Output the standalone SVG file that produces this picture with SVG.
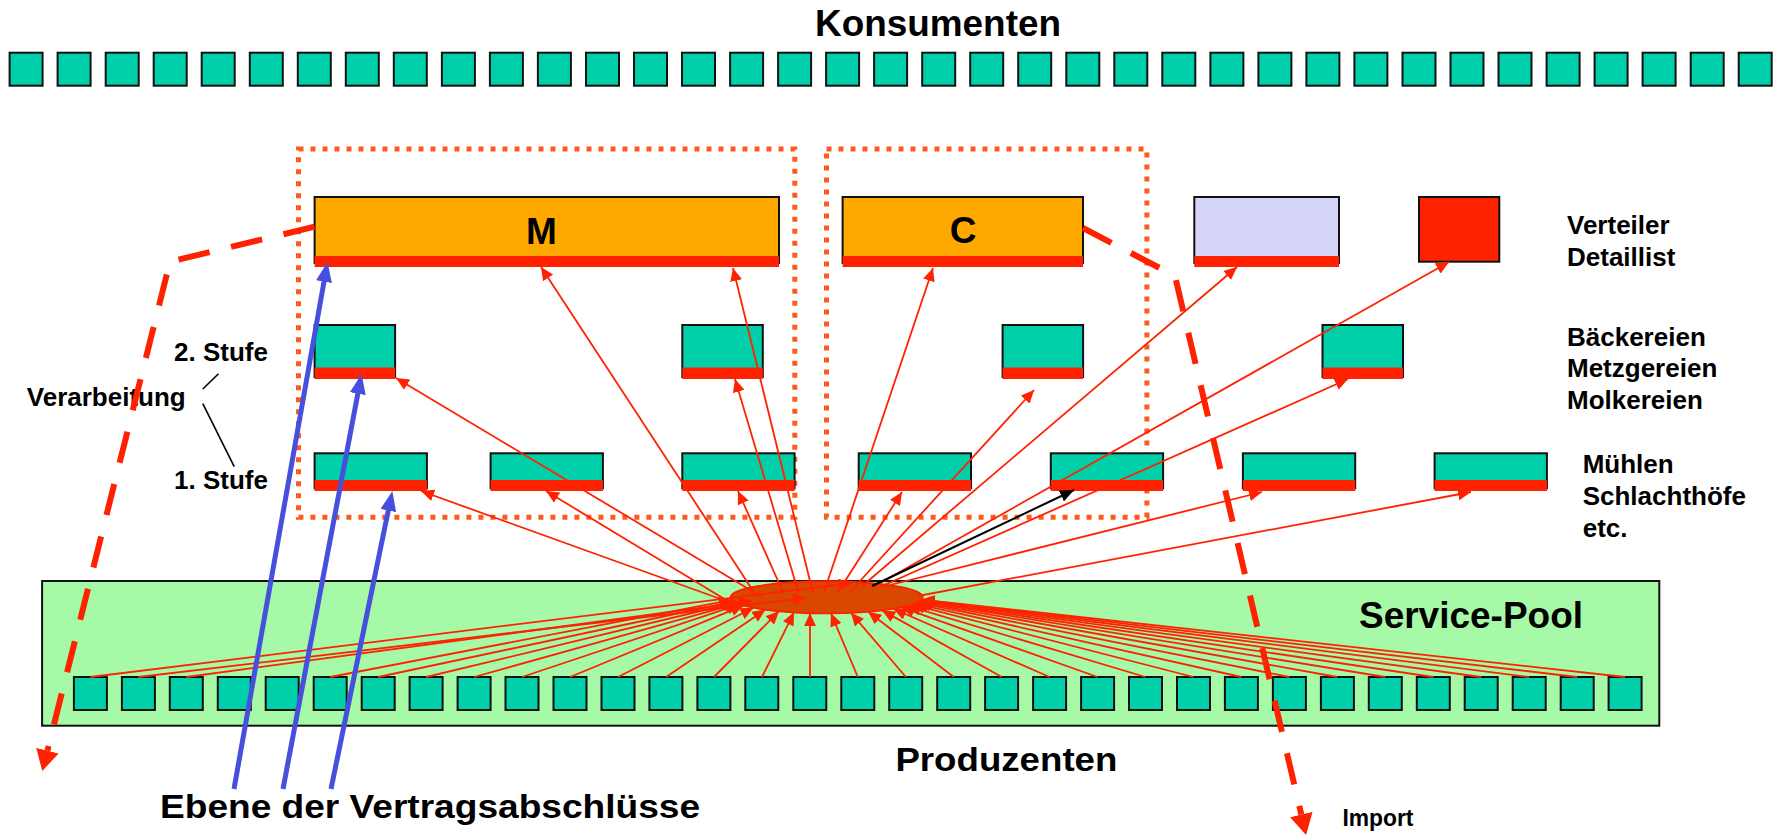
<svg xmlns="http://www.w3.org/2000/svg" width="1774" height="836" viewBox="0 0 1774 836">
<style>
text{font-family:"Liberation Sans",Arial,sans-serif;font-weight:bold;fill:#000}
.big{font-size:37px}
.mid{font-size:26px}
.sq{fill:#00D0AA;stroke:#111;stroke-width:2}
.box{stroke:#111;stroke-width:2}
.strip{fill:#FF2200}
.dot{fill:none;stroke:#FF5A1A;stroke-width:5;stroke-dasharray:5 7}
.lr{fill:none;stroke:#FF2200;stroke-width:1.8;marker-end:url(#ar)}
.lb{fill:none;stroke:#000;stroke-width:2;marker-end:url(#ab)}
.blue{fill:none;stroke:#4650DC;stroke-width:5;marker-end:url(#abl)}
.dash{fill:none;stroke:#FF2200;stroke-width:6;stroke-dasharray:32 22;marker-end:url(#ad)}
.thin{stroke:#000;stroke-width:1.6}
</style>
<defs>
<marker id="ar" markerUnits="userSpaceOnUse" markerWidth="13" markerHeight="12" refX="13" refY="6" orient="auto" viewBox="0 0 13 12"><path d="M0,0 L13,6 L0,12 z" fill="#FF2200"/></marker>
<marker id="ab" markerUnits="userSpaceOnUse" markerWidth="14" markerHeight="12" refX="14" refY="6" orient="auto" viewBox="0 0 14 12"><path d="M0,0 L14,6 L0,12 z" fill="#000"/></marker>
<marker id="abl" markerUnits="userSpaceOnUse" markerWidth="20" markerHeight="16" refX="10" refY="8" orient="auto" viewBox="0 0 20 16"><path d="M0,0 L20,8 L0,16 z" fill="#4650DC"/></marker>
<marker id="ad" markerUnits="userSpaceOnUse" markerWidth="21" markerHeight="23" refX="0" refY="11.5" orient="auto" viewBox="0 0 21 23"><path d="M0,0 L21,11.5 L0,23 z" fill="#FF2200"/></marker>
</defs>
<rect width="1774" height="836" fill="#fff"/>

<text class="big" x="938" y="36" text-anchor="middle" textLength="246" lengthAdjust="spacingAndGlyphs">Konsumenten</text>

<g id="konsumenten">
<rect id="k0" class="sq" x="9.6" y="52.7" width="33" height="33"/>
<rect id="k1" class="sq" x="57.6" y="52.7" width="33" height="33"/>
<rect id="k2" class="sq" x="105.7" y="52.7" width="33" height="33"/>
<rect id="k3" class="sq" x="153.7" y="52.7" width="33" height="33"/>
<rect id="k4" class="sq" x="201.7" y="52.7" width="33" height="33"/>
<rect id="k5" class="sq" x="249.8" y="52.7" width="33" height="33"/>
<rect id="k6" class="sq" x="297.8" y="52.7" width="33" height="33"/>
<rect id="k7" class="sq" x="345.8" y="52.7" width="33" height="33"/>
<rect id="k8" class="sq" x="393.8" y="52.7" width="33" height="33"/>
<rect id="k9" class="sq" x="441.9" y="52.7" width="33" height="33"/>
<rect id="k10" class="sq" x="489.9" y="52.7" width="33" height="33"/>
<rect id="k11" class="sq" x="537.9" y="52.7" width="33" height="33"/>
<rect id="k12" class="sq" x="586.0" y="52.7" width="33" height="33"/>
<rect id="k13" class="sq" x="634.0" y="52.7" width="33" height="33"/>
<rect id="k14" class="sq" x="682.0" y="52.7" width="33" height="33"/>
<rect id="k15" class="sq" x="730.1" y="52.7" width="33" height="33"/>
<rect id="k16" class="sq" x="778.1" y="52.7" width="33" height="33"/>
<rect id="k17" class="sq" x="826.1" y="52.7" width="33" height="33"/>
<rect id="k18" class="sq" x="874.1" y="52.7" width="33" height="33"/>
<rect id="k19" class="sq" x="922.2" y="52.7" width="33" height="33"/>
<rect id="k20" class="sq" x="970.2" y="52.7" width="33" height="33"/>
<rect id="k21" class="sq" x="1018.2" y="52.7" width="33" height="33"/>
<rect id="k22" class="sq" x="1066.3" y="52.7" width="33" height="33"/>
<rect id="k23" class="sq" x="1114.3" y="52.7" width="33" height="33"/>
<rect id="k24" class="sq" x="1162.3" y="52.7" width="33" height="33"/>
<rect id="k25" class="sq" x="1210.4" y="52.7" width="33" height="33"/>
<rect id="k26" class="sq" x="1258.4" y="52.7" width="33" height="33"/>
<rect id="k27" class="sq" x="1306.4" y="52.7" width="33" height="33"/>
<rect id="k28" class="sq" x="1354.4" y="52.7" width="33" height="33"/>
<rect id="k29" class="sq" x="1402.5" y="52.7" width="33" height="33"/>
<rect id="k30" class="sq" x="1450.5" y="52.7" width="33" height="33"/>
<rect id="k31" class="sq" x="1498.5" y="52.7" width="33" height="33"/>
<rect id="k32" class="sq" x="1546.6" y="52.7" width="33" height="33"/>
<rect id="k33" class="sq" x="1594.6" y="52.7" width="33" height="33"/>
<rect id="k34" class="sq" x="1642.6" y="52.7" width="33" height="33"/>
<rect id="k35" class="sq" x="1690.7" y="52.7" width="33" height="33"/>
<rect id="k36" class="sq" x="1738.7" y="52.7" width="33" height="33"/>
</g>

<g id="group-M-frame"><rect class="dot" x="298.5" y="149" width="496.3" height="368.3"/></g>
<g id="group-C-frame"><rect class="dot" x="826.5" y="149" width="320.4" height="368.3"/></g>

<g id="node-M"><rect class="box" x="314.6" y="197" width="464.4" height="66" fill="#FFA800"/><rect class="strip" x="314.6" y="256" width="464.4" height="11"/><text class="big" x="541.3" y="244" text-anchor="middle">M</text></g>
<g id="node-C"><rect class="box" x="842.6" y="197" width="240.4" height="66" fill="#FFA800"/><rect class="strip" x="842.6" y="256" width="240.4" height="11"/><text class="big" x="963" y="243" text-anchor="middle">C</text></g>
<g id="node-lavender"><rect class="box" x="1194.3" y="197" width="144.7" height="66" fill="#D5D5FA"/><rect class="strip" x="1194.3" y="256" width="144.7" height="11"/></g>
<g id="node-red"><rect class="box" x="1419" y="197" width="80.3" height="64.7" fill="#FF2200"/></g>

<g id="s2-1"><rect class="sq" x="314.6" y="325" width="80.5" height="52"/><rect class="strip" x="314.6" y="367.5" width="80.5" height="11.5"/></g>
<g id="s2-2"><rect class="sq" x="682.3" y="325" width="80.5" height="52"/><rect class="strip" x="682.3" y="367.5" width="80.5" height="11.5"/></g>
<g id="s2-3"><rect class="sq" x="1002.6" y="325" width="80.5" height="52"/><rect class="strip" x="1002.6" y="367.5" width="80.5" height="11.5"/></g>
<g id="s2-4"><rect class="sq" x="1322.5" y="325" width="80.5" height="52"/><rect class="strip" x="1322.5" y="367.5" width="80.5" height="11.5"/></g>

<g id="s1-1"><rect class="sq" x="314.6" y="453.3" width="112.3" height="35"/><rect class="strip" x="314.6" y="480" width="112.3" height="11"/></g>
<g id="s1-2"><rect class="sq" x="490.6" y="453.3" width="112.3" height="35"/><rect class="strip" x="490.6" y="480" width="112.3" height="11"/></g>
<g id="s1-3"><rect class="sq" x="682.3" y="453.3" width="112.3" height="35"/><rect class="strip" x="682.3" y="480" width="112.3" height="11"/></g>
<g id="s1-4"><rect class="sq" x="858.7" y="453.3" width="112.3" height="35"/><rect class="strip" x="858.7" y="480" width="112.3" height="11"/></g>
<g id="s1-5"><rect class="sq" x="1050.8" y="453.3" width="112.3" height="35"/><rect class="strip" x="1050.8" y="480" width="112.3" height="11"/></g>
<g id="s1-6"><rect class="sq" x="1242.9" y="453.3" width="112.3" height="35"/><rect class="strip" x="1242.9" y="480" width="112.3" height="11"/></g>
<g id="s1-7"><rect class="sq" x="1434.6" y="453.3" width="112.3" height="35"/><rect class="strip" x="1434.6" y="480" width="112.3" height="11"/></g>

<g id="labels">
<text class="mid" x="1567" y="234">Verteiler</text>
<text class="mid" x="1567" y="266">Detaillist</text>
<text class="mid" x="1567" y="345.7">Bäckereien</text>
<text class="mid" x="1567" y="377.3">Metzgereien</text>
<text class="mid" x="1567" y="409.3">Molkereien</text>
<text class="mid" x="1582.7" y="473.3">Mühlen</text>
<text class="mid" x="1582.7" y="505">Schlachthöfe</text>
<text class="mid" x="1582.7" y="537.3">etc.</text>
<text class="mid" x="174" y="361">2. Stufe</text>
<text class="mid" x="174" y="489">1. Stufe</text>
<text class="mid" x="26.8" y="406">Verarbeitung</text>
<line class="thin" x1="202.8" y1="389" x2="218.5" y2="373.7"/>
<line class="thin" x1="202.8" y1="403.7" x2="234.2" y2="466.7"/>
</g>

<g id="service-pool">
<rect x="42.1" y="581" width="1617.2" height="144.7" fill="#A6F9A6" stroke="#111" stroke-width="2"/>
<text class="big" x="1359" y="627.7" textLength="224" lengthAdjust="spacingAndGlyphs">Service-Pool</text>
<ellipse id="pool-hub" cx="826.7" cy="597.3" rx="96" ry="16" fill="#D84800" stroke="#FF2200" stroke-width="2"/>
</g>

<g id="produzenten">
<rect id="p0" class="sq" x="73.9" y="677" width="33" height="33"/>
<rect id="p1" class="sq" x="121.9" y="677" width="33" height="33"/>
<rect id="p2" class="sq" x="169.8" y="677" width="33" height="33"/>
<rect id="p3" class="sq" x="217.8" y="677" width="33" height="33"/>
<rect id="p4" class="sq" x="265.7" y="677" width="33" height="33"/>
<rect id="p5" class="sq" x="313.7" y="677" width="33" height="33"/>
<rect id="p6" class="sq" x="361.7" y="677" width="33" height="33"/>
<rect id="p7" class="sq" x="409.6" y="677" width="33" height="33"/>
<rect id="p8" class="sq" x="457.6" y="677" width="33" height="33"/>
<rect id="p9" class="sq" x="505.5" y="677" width="33" height="33"/>
<rect id="p10" class="sq" x="553.5" y="677" width="33" height="33"/>
<rect id="p11" class="sq" x="601.5" y="677" width="33" height="33"/>
<rect id="p12" class="sq" x="649.4" y="677" width="33" height="33"/>
<rect id="p13" class="sq" x="697.4" y="677" width="33" height="33"/>
<rect id="p14" class="sq" x="745.3" y="677" width="33" height="33"/>
<rect id="p15" class="sq" x="793.3" y="677" width="33" height="33"/>
<rect id="p16" class="sq" x="841.3" y="677" width="33" height="33"/>
<rect id="p17" class="sq" x="889.2" y="677" width="33" height="33"/>
<rect id="p18" class="sq" x="937.2" y="677" width="33" height="33"/>
<rect id="p19" class="sq" x="985.1" y="677" width="33" height="33"/>
<rect id="p20" class="sq" x="1033.1" y="677" width="33" height="33"/>
<rect id="p21" class="sq" x="1081.1" y="677" width="33" height="33"/>
<rect id="p22" class="sq" x="1129.0" y="677" width="33" height="33"/>
<rect id="p23" class="sq" x="1177.0" y="677" width="33" height="33"/>
<rect id="p24" class="sq" x="1224.9" y="677" width="33" height="33"/>
<rect id="p25" class="sq" x="1272.9" y="677" width="33" height="33"/>
<rect id="p26" class="sq" x="1320.9" y="677" width="33" height="33"/>
<rect id="p27" class="sq" x="1368.8" y="677" width="33" height="33"/>
<rect id="p28" class="sq" x="1416.8" y="677" width="33" height="33"/>
<rect id="p29" class="sq" x="1464.7" y="677" width="33" height="33"/>
<rect id="p30" class="sq" x="1512.7" y="677" width="33" height="33"/>
<rect id="p31" class="sq" x="1560.7" y="677" width="33" height="33"/>
<rect id="p32" class="sq" x="1608.6" y="677" width="33" height="33"/>
</g>

<text class="big" x="895.4" y="770.7" style="font-size:34px" textLength="222" lengthAdjust="spacingAndGlyphs">Produzenten</text>
<text class="big" x="160" y="818.3" style="font-size:33px" textLength="540" lengthAdjust="spacingAndGlyphs">Ebene der Vertragsabschlüsse</text>
<text x="1342.4" y="825.7" style="font-size:24px" textLength="71" lengthAdjust="spacingAndGlyphs">Import</text>

<g id="connectors">
<g id="producer-links">
<path class="lr" d="M90.4,677 L852,583"/>
<path class="lr" d="M138.4,677 L806,598"/>
<path class="lr" d="M186.3,677 L752,601"/>
<path class="lr" d="M330.2,677 L732,599.9"/>
<path class="lr" d="M378.2,677 L734,601.5"/>
<path class="lr" d="M426.1,677 L736,602.5"/>
<path class="lr" d="M474.1,677 L738,603.4"/>
<path class="lr" d="M522,677 L740,604.2"/>
<path class="lr" d="M570,677 L743.6,605.3"/>
<path class="lr" d="M618,677 L753.5,607.7"/>
<path class="lr" d="M666.1,677 L765.4,609.6"/>
<path class="lr" d="M714,677 L779,611.2"/>
<path class="lr" d="M762,677 L794,612.3"/>
<path class="lr" d="M810,677 L810,613.1"/>
<path class="lr" d="M857.8,677 L831,613.3"/>
<path class="lr" d="M905.9,677 L851,612.8"/>
<path class="lr" d="M953.8,677 L868.1,611.7"/>
<path class="lr" d="M1001.8,677 L882.2,610.4"/>
<path class="lr" d="M1049.6,677 L893.3,608.8"/>
<path class="lr" d="M1097.6,677 L901.6,607.3"/>
<path class="lr" d="M1145.5,677 L907.7,605.9"/>
<path class="lr" d="M1193.5,677 L912,604.6"/>
<path class="lr" d="M1241.4,677 L915,603.6"/>
<path class="lr" d="M1289.4,677 L917.3,602.6"/>
<path class="lr" d="M1337.4,677 L918.8,601.8"/>
<path class="lr" d="M1385.3,677 L919.8,601.2"/>
<path class="lr" d="M1433.3,677 L920.4,600.8"/>
<path class="lr" d="M1481.2,677 L921,600.3"/>
<path class="lr" d="M1529.2,677 L921.3,600"/>
<path class="lr" d="M1577.2,677 L921.5,599.8"/>
<path class="lr" d="M1625.1,677 L921.7,599.6"/>
</g>
<g id="hub-links">
<path class="lr" d="M740,606 L421,491"/>
<path class="lr" d="M762,597 L396,378"/>
<path class="lr" d="M736,606 L546,491"/>
<path class="lr" d="M753.8,592 L541,267"/>
<path class="lr" d="M782.9,592 L738,491"/>
<path class="lr" d="M798.3,592 L735,379"/>
<path class="lr" d="M812.7,592 L733,268"/>
<path class="lr" d="M824,592 L933,268"/>
<path class="lr" d="M838,592 L902,492"/>
<path class="lr" d="M850,592 L1034,390"/>
<path class="lr" d="M861,587 L1237,267"/>
<path class="lr" d="M873,587 L1449,262"/>
<path class="lr" d="M880,587 L1348,379"/>
<path class="lr" d="M890,585 L1262,492"/>
<path class="lr" d="M918,596 L1471,492"/>
<path class="lb" d="M872,586 L1074,490"/>
</g>
<g id="contract-links">
<path class="blue" d="M234,789 L325.75,271.85"/>
<path class="blue" d="M283,789 L359.7,383.8"/>
<path class="blue" d="M331,789 L390.3,500.8"/>
</g>
<g id="flows">
<path class="dash" d="M314.6,226.7 L170,261.7 L47.4,750.7"/>
<path class="dash" d="M1083,228 L1175,276 L1301.3,814.5"/>
</g>
</g>
</svg>
